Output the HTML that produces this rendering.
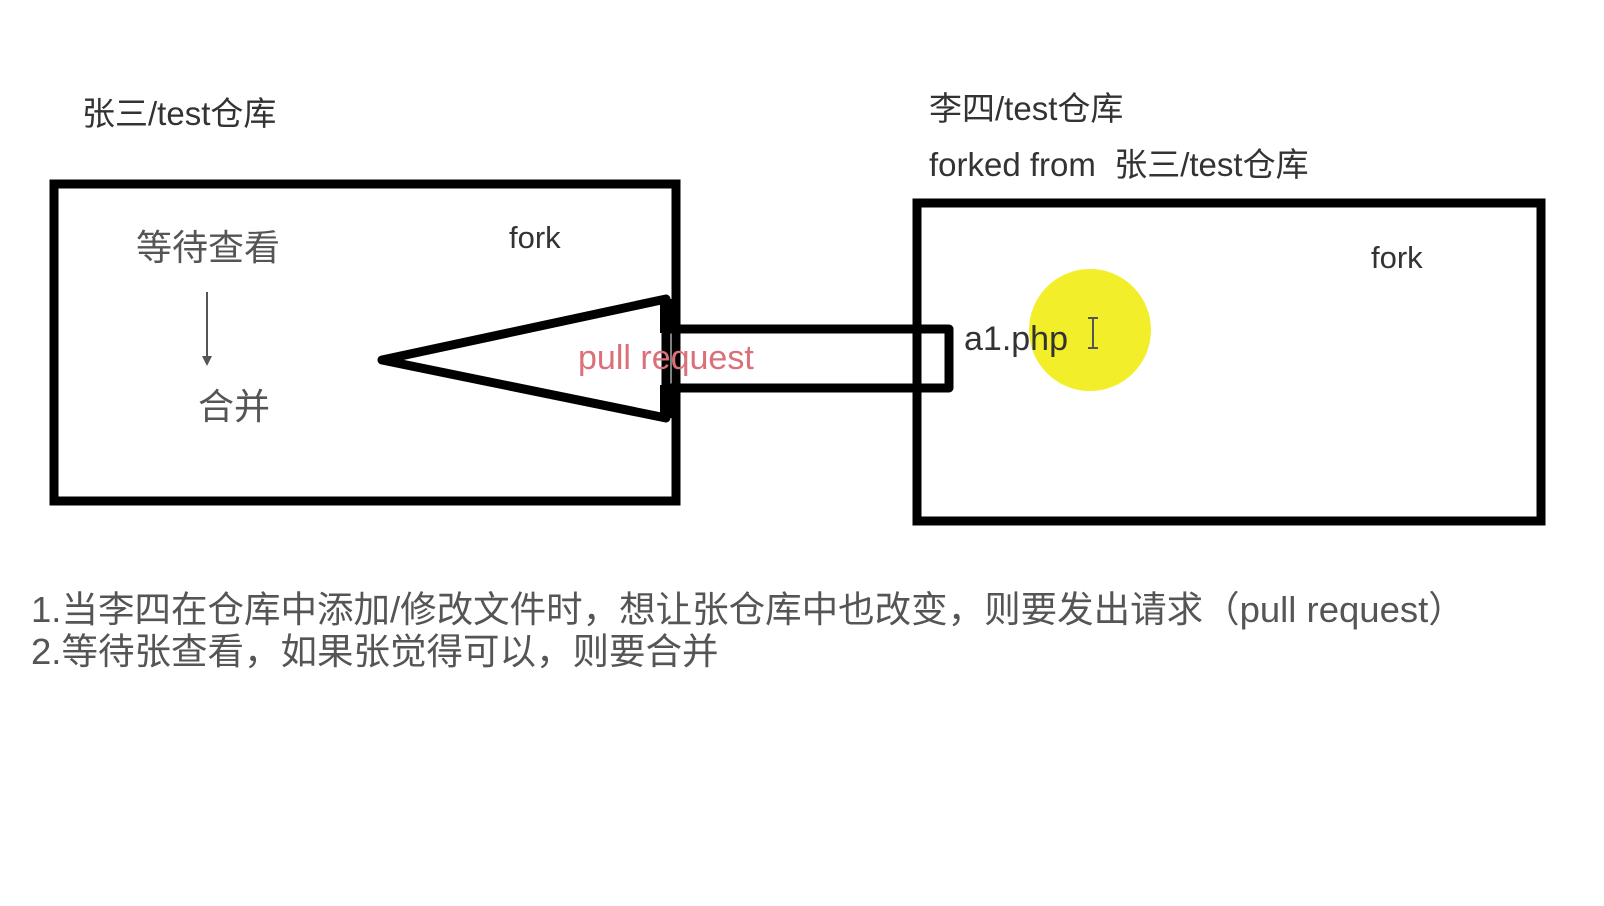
<!DOCTYPE html>
<html><head><meta charset="utf-8"><style>
body{margin:0;width:1604px;height:906px;background:#fff;overflow:hidden;position:relative;font-family:"Liberation Sans","Noto Sans CJK SC",sans-serif;}
.t{position:absolute;white-space:nowrap;line-height:1;}
</style></head><body>
<svg width="1604" height="906" style="position:absolute;left:0;top:0">
<circle cx="1090" cy="330" r="61" fill="#f2ee2a"/>
<rect x="54" y="184" width="622" height="317" fill="none" stroke="#000" stroke-width="9"/>
<rect x="917" y="203" width="624" height="318" fill="none" stroke="#000" stroke-width="9"/>
<polyline points="666,329 949,329 949,388 666,388" fill="none" stroke="#000" stroke-width="9" stroke-linejoin="round"/>
<polygon points="382,360 666,299 666,418" fill="none" stroke="#000" stroke-width="9" stroke-linejoin="round"/>
<line x1="666" y1="299" x2="666" y2="333" stroke="#000" stroke-width="12"/>
<line x1="666" y1="385" x2="666" y2="418" stroke="#000" stroke-width="12"/>
<line x1="207" y1="292" x2="207" y2="360" stroke="#555" stroke-width="2"/>
<polygon points="202,356 212,356 207,366" fill="#555"/>
<line x1="1093" y1="318" x2="1093" y2="348" stroke="#555" stroke-width="2"/>
<line x1="1088" y1="318" x2="1098" y2="318" stroke="#555" stroke-width="2"/>
<line x1="1088" y1="348" x2="1098" y2="348" stroke="#555" stroke-width="2"/>
</svg>
<div class="t" style="left:82px;top:97px;font-size:33px;color:#333">张三/test仓库</div>
<div class="t" style="left:929px;top:92px;font-size:33px;color:#333">李四/test仓库</div>
<div class="t" style="left:929px;top:148px;font-size:33px;color:#333">forked from &nbsp;张三/test仓库</div>
<div class="t" style="left:136px;top:230px;font-size:36px;color:#555">等待查看</div>
<div class="t" style="left:198px;top:389px;font-size:36px;color:#555">合并</div>
<div class="t" style="left:509px;top:222px;font-size:31px;color:#333">fork</div>
<div class="t" style="left:1371px;top:242px;font-size:31px;color:#333">fork</div>
<div class="t" style="left:578px;top:341px;font-size:34px;color:#d9707a">pull request</div>
<div class="t" style="left:964px;top:322px;font-size:34px;color:#333">a1.php</div>
<div class="t" style="left:31px;top:592px;font-size:36.5px;color:#555">1.当李四在仓库中添加/修改文件时，想让张仓库中也改变，则要发出请求（pull request）</div>
<div class="t" style="left:31px;top:634px;font-size:36.5px;color:#555">2.等待张查看，如果张觉得可以，则要合并</div>
</body></html>
